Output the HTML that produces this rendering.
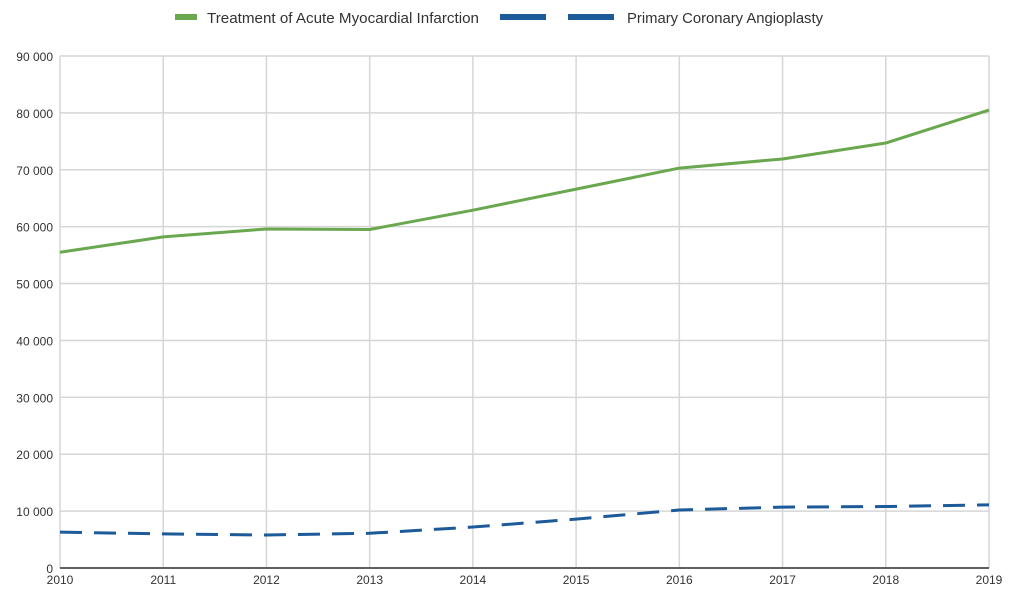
<!DOCTYPE html>
<html><head><meta charset="utf-8">
<style>
body{margin:0;background:#fff;font-family:"Liberation Sans",sans-serif;}
svg text{font-family:"Liberation Sans",sans-serif;fill:#333;}
</style></head>
<body>
<svg id="chart" width="1024" height="599" viewBox="0 0 1024 599" xmlns="http://www.w3.org/2000/svg">
<g>
  <g>
    <rect x="175" y="14" width="22" height="6" fill="#6aa84f"/>
    <text x="207" y="23" font-size="14.5" textLength="272" lengthAdjust="spacingAndGlyphs">Treatment of Acute Myocardial Infarction</text>
  </g>
  <g>
    <rect x="500" y="14" width="46" height="6" fill="#1c5a9a"/>
    <rect x="568" y="14" width="46" height="6" fill="#1c5a9a"/>
    <text x="627" y="23" font-size="14.5" textLength="196" lengthAdjust="spacingAndGlyphs">Primary Coronary Angioplasty</text>
  </g>
</g>
<g id="grid"></g>
<g id="axes"></g>
<g id="series"></g>
</svg>
<script>
const years = [2010,2011,2012,2013,2014,2015,2016,2017,2018,2019];
const amiValues = [55500,58200,59600,59500,62900,66600,70300,71900,74700,80500];
const pcaValues = [6300,6000,5800,6100,7200,8600,10200,10700,10800,11100];
const yTicks = [0,10000,20000,30000,40000,50000,60000,70000,80000,90000];
const yTickLabels = ["0","10 000","20 000","30 000","40 000","50 000","60 000","70 000","80 000","90 000"];

const NS="http://www.w3.org/2000/svg";
const x0=60,x1=989,yBase=568,yTop=56,yMax=90000;
const xs=i=>x0+(x1-x0)*i/(years.length-1);
const ys=v=>yBase-(yBase-yTop)*v/yMax;
function mk(tag,attrs,parent){const e=document.createElementNS(NS,tag);for(const k in attrs)e.setAttribute(k,attrs[k]);parent.appendChild(e);return e;}
const grid=document.getElementById('grid'),axes=document.getElementById('axes'),series=document.getElementById('series');
yTicks.forEach((t,i)=>{
  const l=mk('line',{x1:x0,x2:x1,y1:ys(t),y2:ys(t),stroke:'#d6d6d6','stroke-width':1.5},grid);
  
  
  const tx=mk('text',{x:53,y:ys(t)+5,'font-size':12,'text-anchor':'end'},axes);
  tx.textContent=yTickLabels[i];
  
  
});
years.forEach((yr,i)=>{
  const l=mk('line',{x1:xs(i),x2:xs(i),y1:yTop,y2:yBase,stroke:'#d6d6d6','stroke-width':1.5},grid);
  
  
  const tx=mk('text',{x:xs(i),y:584,'font-size':12,'text-anchor':'middle'},axes);
  tx.textContent=yr;
  
  
});
const base=mk('line',{x1:x0,x2:x1,y1:yBase,y2:yBase,stroke:'#333','stroke-width':1.5},axes);


const p1=mk('polyline',{points:amiValues.map((v,i)=>xs(i)+','+ys(v)).join(' '),fill:'none',stroke:'#6aa84f','stroke-width':3,'stroke-linejoin':'round'},series);


const p2=mk('polyline',{points:pcaValues.map((v,i)=>xs(i)+','+ys(v)).join(' '),fill:'none',stroke:'#1c5a9a','stroke-width':3,'stroke-dasharray':'22 12'},series);


</script>
</body></html>
